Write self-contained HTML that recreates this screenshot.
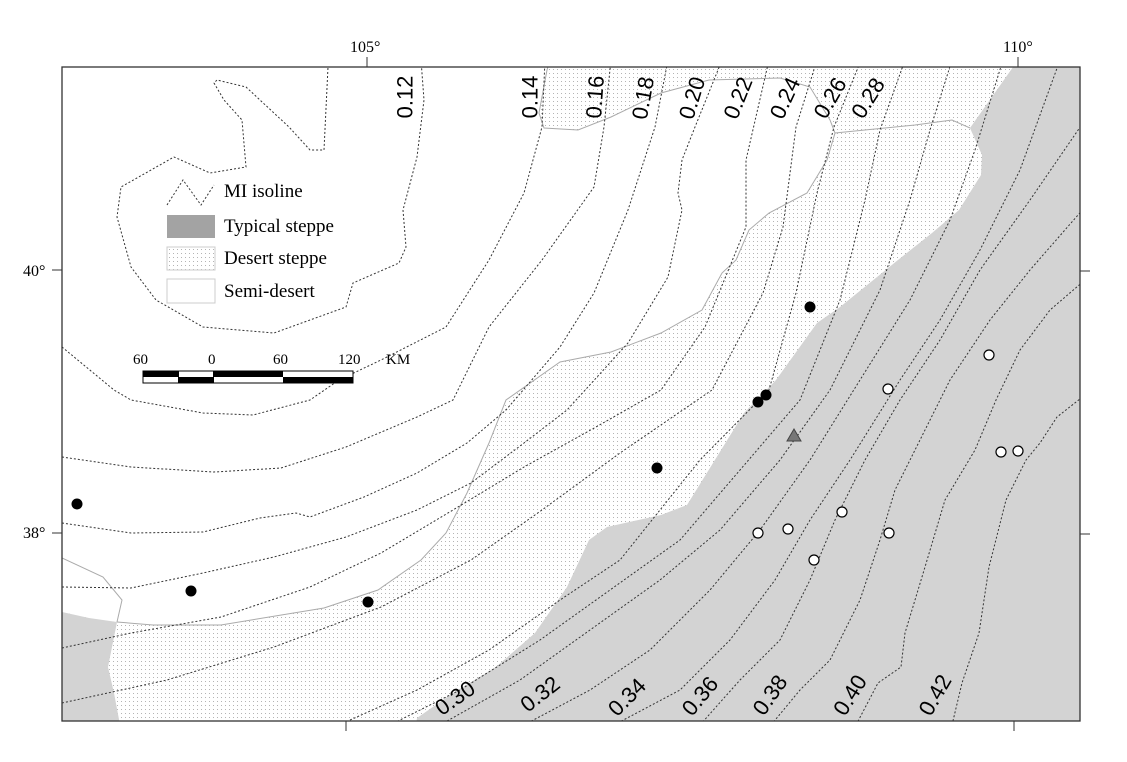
<!DOCTYPE html>
<html><head><meta charset="utf-8"><style>
html,body{margin:0;padding:0;background:#fff;}
svg{display:block;}
.iso{fill:none;stroke:#333;stroke-width:1;stroke-dasharray:2,2;}
.bd{fill:none;stroke:#aaa;stroke-width:1;}
.lab{font-family:"Liberation Sans",sans-serif;font-size:22px;fill:#000;text-anchor:middle;dominant-baseline:central;}
.ax{font-family:"Liberation Serif",serif;font-size:16px;fill:#000;}
.lg{font-family:"Liberation Serif",serif;font-size:19px;fill:#000;}
</style></head><body>
<svg width="1127" height="762" viewBox="0 0 1127 762" xmlns="http://www.w3.org/2000/svg">
<defs>
<pattern id="dots" width="4" height="4" patternUnits="userSpaceOnUse">
<rect x="1" y="1" width="1" height="1" fill="#b4b4b4"/>
</pattern>
<clipPath id="cp"><rect x="62" y="67" width="1018" height="654"/></clipPath>
</defs>
<g clip-path="url(#cp)">
<rect x="62" y="67" width="1018" height="654" fill="#fff"/>
<rect x="62" y="67" width="1018" height="654" fill="url(#dots)"/>
<polygon fill="#fff" points="62,60 550,60 547,70 539,113 544,128 578,130 611,117 661,93 709,80 780,78 810,87 830,120 835,133 827,160 807,193 769,213 749,230 736,260 722,273 702,310 661,333 611,352 560,362 506,400 489,443 467,493 446,533 421,560 378,590 324,608 221,625 153,625 117,622 89,618 62,612"/>
<polygon fill="#d3d3d3" points="1018,60 1090,60 1090,730 415,730 417,718 453,693 496,667 535,633 567,587 589,540 607,527 661,515 687,505 744,413 776,380 817,323 840,307 898,260 932,233 959,210 981,175 982,155 970,128"/>
<polygon fill="#d3d3d3" points="62,612 89,618 117,622 108,667 114,693 121,730 55,730"/>
<polyline class="bd" points="550,60 547,70 539,113 544,128 578,130 611,117 661,93 709,80 780,78 810,87 830,120 835,133 827,160 807,193 769,213 749,230 736,260 722,273 702,310 661,333 611,352 560,362 506,400 489,443 467,493 446,533 421,560 378,590 324,608 221,625 153,625 117,622"/>
<polyline class="bd" points="62,558 103,577 122,600 117,622"/>
<polyline class="bd" points="835,133 915,125 952,120 970,128"/>
<polyline class="iso" points="328,60 328,67 324,150 310,150 289,127 246,87 217,80 214,83 224,100 242,120 246,167 210,173 174,157 121,187 117,217 131,267 156,300 203,327 274,333 346,307 353,283 399,263 406,247 403,210 417,157 424,100 421,60"/>
<polyline class="iso" points="62,347 114,390 131,400 203,413 253,415 310,400 339,380 381,360 446,327 489,260 524,193 542,127 545,60"/>
<polyline class="iso" points="62,457 131,467 214,472 281,468 346,447 417,417 453,400 489,327 542,260 594,187 604,127 611,60"/>
<polyline class="iso" points="62,523 131,533 203,532 260,518 296,513 310,517 364,497 417,473 467,443 506,410 560,347 594,293 628,210 655,127 668,60"/>
<polyline class="iso" points="62,587 131,588 203,573 274,557 346,537 417,510 471,483 524,443 567,410 628,343 668,277 682,210 678,193 682,160 695,127 722,60"/>
<polyline class="iso" points="62,648 131,633 221,617 310,587 381,553 453,510 524,467 596,427 661,390 705,327 746,227 746,160 769,60"/>
<polyline class="iso" points="62,703 167,680 274,647 381,607 471,560 542,510 620,453 712,390 763,293 783,227 796,127 817,60"/>
<polyline class="iso" points="339,725 417,690 489,650 560,600 620,560 700,460 769,390 796,293 817,193 834,127 861,60"/>
<polyline class="iso" points="390,725 460,690 540,640 610,590 680,540 740,470 800,400 840,300 865,200 880,130 905,60"/>
<polyline class="iso" points="440,725 520,680 590,630 660,580 720,530 780,460 830,390 880,290 910,200 930,130 952,60"/>
<polyline class="iso" points="524,725 590,690 650,650 710,590 760,530 810,460 860,380 910,300 950,220 975,150 1003,60"/>
<polyline class="iso" points="614,725 680,690 730,640 775,580 810,520 850,460 900,380 940,320 980,250 1020,170 1060,60"/>
<polyline class="iso" points="700,725 740,680 780,640 810,580 835,520 865,460 900,400 940,340 980,270 1030,200 1085,120"/>
<polyline class="iso" points="771,725 800,690 830,660 860,600 880,540 895,490 920,440 950,380 990,320 1030,270 1085,207"/>
<polyline class="iso" points="856,725 878,683 901,667 905,633 925,567 945,500 975,450 996,400 1020,350 1050,310 1085,280"/>
<polyline class="iso" points="952,725 962,683 979,633 989,567 1006,500 1026,460 1040,443 1057,417 1085,395"/>
</g>
<rect x="62" y="67" width="1018" height="654" fill="none" stroke="#333" stroke-width="1.3"/>
<g stroke="#333" stroke-width="1">
<line x1="367" y1="57" x2="367" y2="67"/><line x1="1018" y1="57" x2="1018" y2="67"/>
<line x1="346" y1="721" x2="346" y2="731"/><line x1="1014" y1="721" x2="1014" y2="731"/>
<line x1="52" y1="270" x2="62" y2="270"/><line x1="52" y1="533" x2="62" y2="533"/>
<line x1="1080" y1="271" x2="1090" y2="271"/><line x1="1080" y1="534" x2="1090" y2="534"/>
</g>
<text class="ax" x="350" y="52">105°</text>
<text class="ax" x="1003" y="52">110°</text>
<text class="ax" x="23" y="276">40°</text>
<text class="ax" x="23" y="538">38°</text>
<text class="lab" transform="translate(405,97) rotate(-90)">0.12</text>
<text class="lab" transform="translate(530,97) rotate(-90)">0.14</text>
<text class="lab" transform="translate(595,97) rotate(-86)">0.16</text>
<text class="lab" transform="translate(643,98) rotate(-80)">0.18</text>
<text class="lab" transform="translate(692,98) rotate(-73)">0.20</text>
<text class="lab" transform="translate(738,98) rotate(-68)">0.22</text>
<text class="lab" transform="translate(785,98) rotate(-65)">0.24</text>
<text class="lab" transform="translate(830,98) rotate(-60)">0.26</text>
<text class="lab" transform="translate(868,98) rotate(-58)">0.28</text>
<text class="lab" transform="translate(455,698) rotate(-35)">0.30</text>
<text class="lab" transform="translate(540,694) rotate(-38)">0.32</text>
<text class="lab" transform="translate(627,697) rotate(-45)">0.34</text>
<text class="lab" transform="translate(700,696) rotate(-50)">0.36</text>
<text class="lab" transform="translate(770,695) rotate(-55)">0.38</text>
<text class="lab" transform="translate(850,695) rotate(-58)">0.40</text>
<text class="lab" transform="translate(935,695) rotate(-60)">0.42</text>
<polyline class="iso" points="167,205 183,180 201,205 214,185"/>
<rect x="167" y="215" width="48" height="23" fill="#a3a3a3"/>
<rect x="167" y="247" width="48" height="23" fill="url(#dots)" stroke="#ccc"/>
<rect x="167" y="279" width="48" height="24" fill="#fff" stroke="#ccc"/>
<text class="lg" x="224" y="197">MI isoline</text>
<text class="lg" x="224" y="232">Typical steppe</text>
<text class="lg" x="224" y="264">Desert steppe</text>
<text class="lg" x="224" y="297">Semi-desert</text>
<g class="lg" style="font-size:15px">
<text x="133" y="364">60</text><text x="208" y="364">0</text><text x="273" y="364">60</text><text x="338" y="364">120</text><text x="386" y="364">KM</text>
</g>
<rect x="143" y="371" width="210" height="12" fill="#fff" stroke="#000" stroke-width="1"/>
<rect x="143" y="371" width="36" height="6" fill="#000"/>
<rect x="213" y="371" width="70" height="6" fill="#000"/>
<rect x="178" y="377" width="36" height="6" fill="#000"/>
<rect x="283" y="377" width="70" height="6" fill="#000"/>
<g fill="#000">
<circle cx="77" cy="504" r="5.5"/><circle cx="191" cy="591" r="5.5"/><circle cx="368" cy="602" r="5.5"/>
<circle cx="657" cy="468" r="5.5"/><circle cx="758" cy="402" r="5.5"/><circle cx="766" cy="395" r="5.5"/><circle cx="810" cy="307" r="5.5"/>
</g>
<g fill="#fff" stroke="#000" stroke-width="1.2">
<circle cx="758" cy="533" r="5"/><circle cx="788" cy="529" r="5"/><circle cx="814" cy="560" r="5"/>
<circle cx="842" cy="512" r="5"/><circle cx="888" cy="389" r="5"/><circle cx="889" cy="533" r="5"/>
<circle cx="989" cy="355" r="5"/><circle cx="1001" cy="452" r="5"/><circle cx="1018" cy="451" r="5"/>
</g>
<polygon points="794,429 801,441 787,441" fill="#777" stroke="#444" stroke-width="1"/>
</svg>
</body></html>
